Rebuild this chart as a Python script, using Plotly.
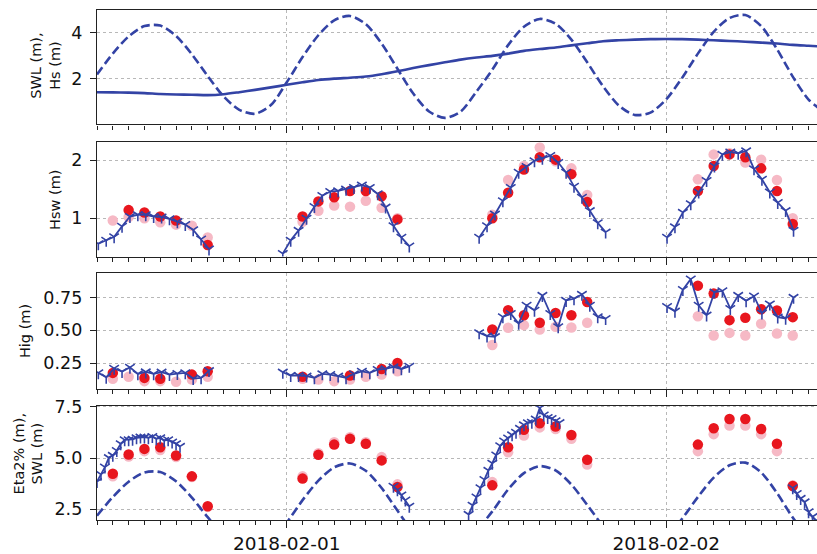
import numpy as np
import pandas as pd
import plotly.graph_objects as go
from plotly.subplots import make_subplots

BLUE = "#3343a5"
RED = "#e8161e"
PINK = "#f6b9c5"
FONT = "DejaVu Sans"
nan = np.nan

# ---------------- Panel 1: hourly SWL (dashed) and Hs (solid) -----------------
p1_start = "2018-01-31 12:00"
swl = [2.19, 3.10, 3.85, 4.30, 4.32, 3.87, 3.07, 2.12, 1.24, 0.65, 0.48, 0.86,
       1.85, 2.95, 3.90, 4.55, 4.74, 4.38, 3.54, 2.44, 1.36, 0.58, 0.30, 0.58,
       1.45, 2.40, 3.47, 4.27, 4.61, 4.40, 3.71, 2.72, 1.68, 0.84, 0.43, 0.53,
       1.11, 2.04, 3.10, 4.05, 4.65, 4.78, 4.30, 3.30, 2.10, 1.10, 0.55]
hs = [1.42, 1.41, 1.40, 1.38, 1.34, 1.32, 1.31, 1.29, 1.33, 1.42, 1.52, 1.63,
      1.74, 1.85, 1.95, 2.01, 2.05, 2.10, 2.20, 2.33, 2.47, 2.60, 2.72, 2.84,
      2.93, 3.00, 3.10, 3.22, 3.30, 3.37, 3.46, 3.55, 3.64, 3.68, 3.71, 3.73,
      3.74, 3.73, 3.71, 3.68, 3.65, 3.62, 3.58, 3.54, 3.48, 3.44, 3.40]

# ---------------- observation windows (hourly) -----------------
obs_starts = ["2018-01-31 13:00", "2018-02-01 01:00", "2018-02-01 13:00", "2018-02-02 02:00"]
obs_len = 7

# ---------------- model segments -----------------
wave_starts = ["2018-01-31 12:05", "2018-01-31 23:45", "2018-02-01 12:10", "2018-02-02 00:03"]
hsw_model = [
    [0.56, 0.62, 0.68, 0.86, 1.03, 1.06, 1.06, 1.03, 1.02, 0.99, 0.94, 0.89, 0.80, 0.64, 0.47],
    [0.39, 0.62, 0.79, 1.00, 1.20, 1.39, 1.46, 1.47, 1.50, 1.53, 1.57, 1.53, 1.42, 1.19, 0.87, 0.67, 0.52],
    [0.67, 0.87, 1.07, 1.30, 1.53, 1.79, 1.89, 1.99, 2.03, 2.08, 1.96, 1.79, 1.55, 1.36, 1.13, 0.92, 0.76],
    [0.67, 0.85, 1.10, 1.25, 1.45, 1.65, 1.90, 2.10, 2.14, 2.12, 2.16, 1.85, 1.67, 1.45, 1.27, 1.13, 0.79],
]
hsw_red = [nan, 1.14, 1.10, 1.03, 0.96, nan, 0.54,
           1.03, 1.29, 1.36, 1.47, 1.47, 1.38, 0.98,
           1.00, 1.44, 1.84, 2.05, 2.01, 1.76, 1.28,
           1.47, 1.90, 2.10, 2.05, 1.86, 1.47, 0.90]
hsw_pink = [0.96, 1.02, 1.00, 0.93, 0.89, 0.87, 0.67,
            0.94, 1.13, 1.22, 1.20, 1.30, 1.18, 1.00,
            1.06, 1.66, 1.90, 2.22, 1.98, 1.86, 1.40,
            1.67, 2.10, 2.12, 1.96, 2.01, 1.66, 1.00]

hig_model = [
    [0.175, 0.142, 0.21, 0.185, 0.217, 0.167, 0.182, 0.167, 0.18, 0.162, 0.17, 0.175, 0.132, 0.137, 0.192],
    [0.18, 0.155, 0.155, 0.15, 0.137, 0.167, 0.162, 0.15, 0.137, 0.167, 0.187, 0.175, 0.20, 0.205, 0.22, 0.205, 0.225],
    [0.481, 0.456, 0.451, 0.602, 0.627, 0.552, 0.69, 0.652, 0.765, 0.627, 0.526, 0.727, 0.74, 0.773, 0.69, 0.602, 0.589],
    [0.68, 0.645, 0.81, 0.89, 0.69, 0.615, 0.79, 0.80, 0.665, 0.765, 0.725, 0.76, 0.63, 0.70, 0.60, 0.59, 0.75],
]
hig_red = [0.175, nan, 0.137, 0.13, nan, 0.162, 0.187,
           0.145, nan, nan, 0.155, nan, 0.205, 0.25,
           0.506, 0.652, 0.614, 0.557, 0.632, 0.614, 0.715,
           0.84, 0.78, 0.577, 0.595, 0.66, 0.65, 0.60]
hig_pink = [0.13, 0.145, 0.112, 0.112, 0.107, 0.125, 0.145,
            0.13, 0.125, 0.112, 0.125, 0.145, 0.162, 0.187,
            0.388, 0.519, 0.539, 0.506, 0.526, 0.521, 0.557,
            0.607, 0.46, 0.48, 0.46, 0.55, 0.475, 0.46]

eta_starts = ["2018-01-31 12:00", "2018-02-01 06:45", "2018-02-01 11:30", "2018-02-02 08:00"]
eta_model = [
    [3.85, 4.21, 4.56, 5.02, 5.13, 5.37, 5.70, 5.89, 5.89, 5.92, 5.99, 6.02, 6.02, 5.99, 6.05,
     5.94, 5.99, 5.86, 5.89, 5.78, 5.70, 5.57],
    [3.62, 3.45, 3.20, 2.95, 2.65],
    [2.25, 2.70, 3.10, 3.55, 3.95, 4.40, 4.75, 5.15, 5.60, 5.83, 5.98, 6.13, 6.26, 6.45, 6.62,
     6.72, 6.75, 6.90, 7.45, 7.10, 6.98, 6.93, 6.82, 6.73],
    [3.55, 3.27, 3.03, 2.86, 2.38, 2.14, 1.95, 1.75],
]
eta_red = [4.24, 5.18, 5.45, 5.53, 5.13, 4.11, 2.65,
           4.00, 5.16, 5.66, 5.94, 5.70, 4.89, 3.59,
           3.67, 5.53, 6.38, 6.70, 6.54, 6.13, 4.92,
           5.66, 6.46, 6.91, 6.91, 6.42, 5.70, 3.64]
eta_pink = [4.11, 5.08, 5.34, 5.40, 5.05, 4.08, 2.62,
            4.11, 5.24, 5.78, 6.02, 5.78, 5.05, 3.72,
            3.83, 5.29, 6.10, 6.50, 6.42, 5.94, 4.69,
            5.34, 6.17, 6.59, 6.59, 6.17, 5.34, 3.67]

y_titles = ["SWL (m),<br>Hs (m)", "Hsw (m)", "Hig (m)", "Eta2% (m),<br>SWL (m)"]
x_range = ["2018-01-31 12:00", "2018-02-02 09:32"]


def join_segments(starts, segs, step):
    xs, ys = [], []
    for s, vals in zip(starts, segs):
        t = pd.date_range(s, periods=len(vals), freq=step)
        xs += list(t) + [None]
        ys += list(vals) + [None]
    return xs, ys


t_hourly = pd.date_range(p1_start, periods=len(swl), freq="60min")
t_obs = []
for s in obs_starts:
    t_obs += list(pd.date_range(s, periods=obs_len, freq="60min"))

fig = make_subplots(rows=4, cols=1, shared_xaxes=True)

dash_line = dict(color=BLUE, width=2.6, dash="9px,4px", shape="spline", smoothing=0.8)

# panel 1
fig.add_trace(go.Scatter(x=t_hourly, y=swl, mode="lines", line=dash_line), row=1, col=1)
fig.add_trace(go.Scatter(x=t_hourly, y=hs, mode="lines",
                         line=dict(color=BLUE, width=2.6, shape="spline", smoothing=0.8)), row=1, col=1)

model_marker = dict(symbol="y-down", size=8, color=BLUE, line=dict(color=BLUE, width=1.6))
dot = lambda c: dict(symbol="circle", size=10.5, color=c, line=dict(width=0))

panels = [
    (2, wave_starts, hsw_model, "30min", hsw_red, hsw_pink),
    (3, wave_starts, hig_model, "30min", hig_red, hig_pink),
    (4, eta_starts, eta_model, "15min", eta_red, eta_pink),
]
for row, starts, segs, step, red, pink in panels:
    if row == 4:
        fig.add_trace(go.Scatter(x=t_hourly, y=swl, mode="lines", line=dash_line), row=4, col=1)
    fig.add_trace(go.Scatter(x=t_obs, y=pink, mode="markers", marker=dot(PINK)), row=row, col=1)
    fig.add_trace(go.Scatter(x=t_obs, y=red, mode="markers", marker=dot(RED)), row=row, col=1)
    mx, my = join_segments(starts, segs, step)
    fig.add_trace(go.Scatter(x=mx, y=my, mode="lines+markers",
                             line=dict(color=BLUE, width=1.8), marker=model_marker), row=row, col=1)

# layout
L, T, B = 97, 10, 31
W, H = 817, 554
plot_h = H - T - B
panel_px = [(10, 125), (143, 258), (275, 391), (408, 523)]
y_ranges = [[0.02, 5.0], [0.34, 2.31], [0.054, 0.933], [1.98, 7.56]]
y_ticks = [[2, 4], [1, 2], [0.25, 0.5, 0.75], [2.5, 5.0, 7.5]]
y_fmt = ["d", "d", ".2f", ".1f"]
title_x = [46, 55, 25, 28]
title_y = [66, 201, 333, 457]

AX = "#222222"
GRID = "#b8b8b8"

layout = dict(
    width=W, height=H,
    margin=dict(l=L, r=0, t=T, b=B),
    paper_bgcolor="white", plot_bgcolor="white",
    showlegend=False,
    font=dict(family=FONT, size=17, color="#111111"),
)
for i in range(4):
    top, bot = panel_px[i]
    sfx = "" if i == 0 else str(i + 1)
    layout["yaxis" + sfx] = dict(
        domain=[(H - B - bot) / plot_h, (H - B - top) / plot_h],
        range=y_ranges[i], tickvals=y_ticks[i], tickformat=y_fmt[i],
        showline=True, linecolor=AX, linewidth=1.4, mirror=False,
        ticks="outside", ticklen=6, tickwidth=1.3, tickcolor=AX,
        ticklabelstandoff=4,
        showgrid=True, gridcolor=GRID, griddash="dot", gridwidth=1,
        zeroline=False, tickfont=dict(size=17.5, family=FONT),
    )
    layout["xaxis" + sfx] = dict(
        type="date", range=x_range,
        showline=True, linecolor=AX, linewidth=1.4, mirror=True,
        ticks="outside", ticklen=7, tickwidth=1.3, tickcolor=AX,
        dtick=86400000, tick0="2018-01-31", tickformat="%Y-%m-%d",
        showgrid=True, gridcolor=GRID, griddash="dot", gridwidth=1,
        zeroline=False, showticklabels=(i == 3),
        tickfont=dict(size=18.5, family=FONT),
        minor=dict(dtick=3600000, ticks="outside", ticklen=4, tickwidth=1,
                   tickcolor=AX, showgrid=False),
    )
fig.update_layout(**layout)

for i in range(4):
    fig.add_annotation(
        text=y_titles[i], xref="paper", yref="paper",
        x=(title_x[i] - L) / (W - L), y=(H - B - title_y[i]) / plot_h,
        xanchor="center", yanchor="middle", textangle=-90, showarrow=False,
        font=dict(size=14.5, family=FONT, color="#111111"),
    )

fig.write_html("out.html")
